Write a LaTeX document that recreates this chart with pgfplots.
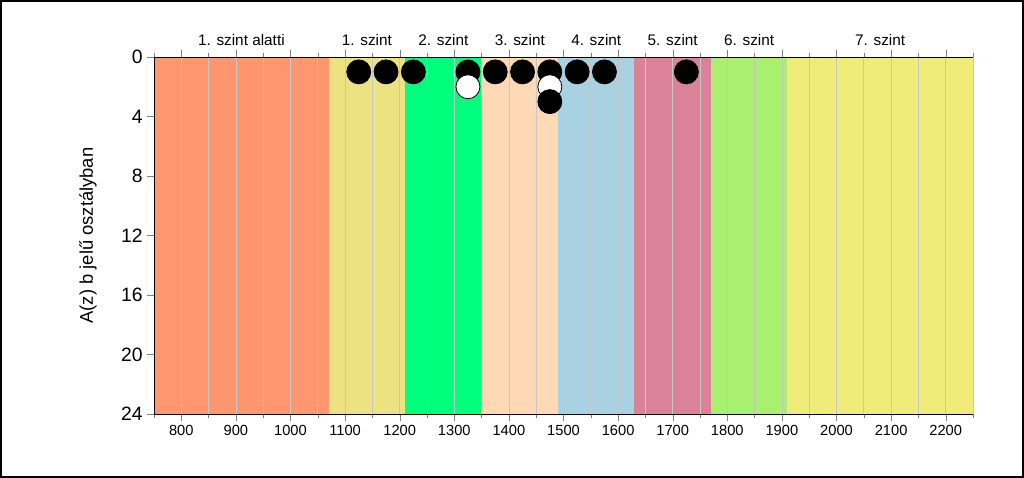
\documentclass[border=0pt]{standalone}
\usepackage{pgfplots}
\pgfplotsset{compat=1.18}
\usepackage{fontspec}
\setmainfont{Liberation Sans}
\definecolor{cA}{RGB}{254,150,112}
\definecolor{cB}{RGB}{236,226,130}
\definecolor{cC}{RGB}{0,255,125}
\definecolor{cD}{RGB}{255,216,182}
\definecolor{cE}{RGB}{168,210,226}
\definecolor{cF}{RGB}{220,130,152}
\definecolor{cG}{RGB}{170,240,112}
\definecolor{cH}{RGB}{240,236,122}
\begin{document}
\begin{tikzpicture}
\useasboundingbox (0pt,0pt) rectangle (768pt,358.5pt);
\draw[line width=1.5pt] (0.75pt,0.75pt) rectangle (767.25pt,357.75pt);
\begin{axis}[
  at={(115.5pt,48pt)}, anchor=south west,
  scale only axis, width=614.25pt, height=267.75pt,
  xmin=750, xmax=2250, ymin=0, ymax=24, y dir=reverse,
  axis x line=box, axis y line=left, axis line style={-},
  xtick={800,900,...,2200},
  minor xtick={750,850,...,2250},
  ytick={0,4,...,24},
  tick align=outside,
  major tick length=5pt, minor tick length=3pt,
  xmajorgrids, xminorgrids,
  major grid style={black!22, line width=0.5pt},
  minor grid style={black!22, line width=0.5pt},
  axis on top,
  x tick label style={font=\fontsize{11}{13}\selectfont},
  y tick label style={font=\fontsize{14.5}{16}\selectfont},
  /pgf/number format/assume math mode=true,
  /pgf/number format/1000 sep={},
  ylabel={A(z) b jelű osztályban},
  ylabel style={font=\fontsize{13.8}{15}\selectfont, at={(axis description cs:-0.0806,0.5)}, anchor=center},
  clip=false,
]
\addplot[draw=none, fill=cA] coordinates {(750,0) (1070,0) (1070,24) (750,24)} -- cycle;
\addplot[draw=none, fill=cB] coordinates {(1070,0) (1210,0) (1210,24) (1070,24)} -- cycle;
\addplot[draw=none, fill=cC] coordinates {(1210,0) (1350,0) (1350,24) (1210,24)} -- cycle;
\addplot[draw=none, fill=cD] coordinates {(1350,0) (1490,0) (1490,24) (1350,24)} -- cycle;
\addplot[draw=none, fill=cE] coordinates {(1490,0) (1630,0) (1630,24) (1490,24)} -- cycle;
\addplot[draw=none, fill=cF] coordinates {(1630,0) (1770,0) (1770,24) (1630,24)} -- cycle;
\addplot[draw=none, fill=cG] coordinates {(1770,0) (1910,0) (1910,24) (1770,24)} -- cycle;
\addplot[draw=none, fill=cH] coordinates {(1910,0) (2250,0) (2250,24) (1910,24)} -- cycle;
% points
\addplot[only marks, mark=*, mark size=9pt, mark options={fill=black, draw=black, line width=0.6pt}]
 coordinates {(1125,1) (1175,1) (1225,1) (1325,1) (1375,1) (1425,1) (1475,1) (1525,1) (1575,1) (1725,1)};
\addplot[only marks, mark=*, mark size=9pt, mark options={fill=white, draw=black, line width=0.6pt}]
 coordinates {(1325,2) (1475,2)};
\addplot[only marks, mark=*, mark size=9pt, mark options={fill=black, draw=black, line width=0.6pt}]
 coordinates {(1475,3)};
% band labels
\begin{scope}[every node/.style={anchor=base, font=\fontsize{11.5}{13}\selectfont}]
\node at (axis cs:910,0) [yshift=9pt] {1. szint alatti};
\node at (axis cs:1140,0) [yshift=9pt] {1. szint};
\node at (axis cs:1280,0) [yshift=9pt] {2. szint};
\node at (axis cs:1420,0) [yshift=9pt] {3. szint};
\node at (axis cs:1560,0) [yshift=9pt] {4. szint};
\node at (axis cs:1700,0) [yshift=9pt] {5. szint};
\node at (axis cs:1840,0) [yshift=9pt] {6. szint};
\node at (axis cs:2080,0) [yshift=9pt] {7. szint};
\end{scope}
\end{axis}
\end{tikzpicture}
\end{document}
